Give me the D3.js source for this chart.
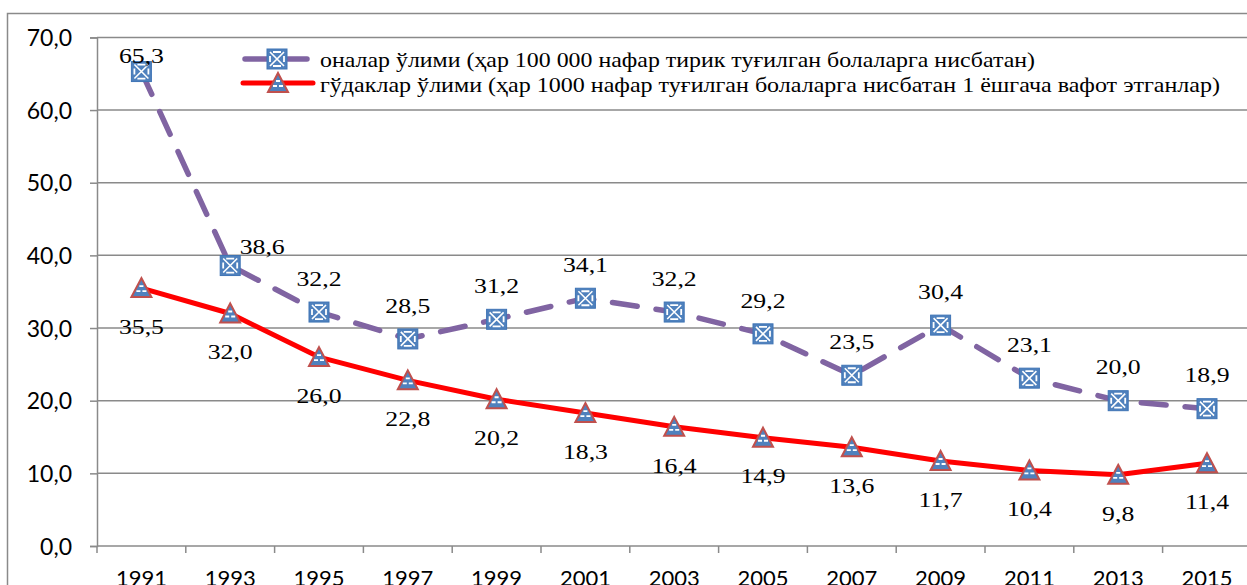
<!DOCTYPE html>
<html><head><meta charset="utf-8">
<script src="https://cdn.jsdelivr.net/npm/d3@7"></script>
<style>
html,body{margin:0;padding:0;background:#fff;overflow:hidden}
svg{display:block}
</style></head>
<body>
<svg id="chart" width="1247" height="585"></svg>
<script>
const years = ["1991","1993","1995","1997","1999","2001","2003","2005","2007","2009","2011","2013","2015"];
const maternal = [65.3,38.6,32.2,28.5,31.2,34.1,32.2,29.2,23.5,30.4,23.1,20.0,18.9];
const infant = [35.5,32.0,26.0,22.8,20.2,18.3,16.4,14.9,13.6,11.7,10.4,9.8,11.4];
const yTicks = [0,10,20,30,40,50,60,70];
const seriesNames = [
  "оналар ўлими (ҳар 100 000 нафар тирик туғилган болаларга нисбатан)",
  "гўдаклар ўлими (ҳар 1000 нафар туғилган болаларга нисбатан 1 ёшгача вафот этганлар)"
];
// label placement for maternal series
const maternalPlace = ["near","right","above","above","above","above","above","above","above","above","above","above","above"];

(function(){
const svg = d3.select("#chart");
const W = 1247, H = 585;
const mLeft = 97, mTop = 37.4, mBottom = 546;
const step = 88.8;
const fmt = v => d3.format(".1f")(v).replace(".", ",");
const grid = "#8a8a8a";
const purple = "#8064A2", red = "#FF0000", blue = "#4F81BD", redEdge = "#C0504D";
const sx = 1.17;

// outer border
svg.append("rect").attr("x",7.5).attr("y",13.5).attr("width",W+20).attr("height",H+20)
  .attr("fill","none").attr("stroke",grid).attr("stroke-width",1.5);

const x = d3.scaleBand().domain(years).range([mLeft, mLeft + step*years.length]).paddingInner(0).paddingOuter(0);
const y = d3.scaleLinear().domain([0,70]).range([mBottom, mTop]);
const cx = d => x(d) + x.bandwidth()/2;

// gridlines
svg.append("g").selectAll("line").data(yTicks.filter(d=>d>0)).join("line")
  .attr("x1",mLeft).attr("x2",W+5).attr("y1",d=>y(d)).attr("y2",d=>y(d))
  .attr("stroke",grid).attr("stroke-width",1.5);

// y axis
const yAxis = svg.append("g").attr("transform",`translate(${mLeft},0)`)
  .call(d3.axisLeft(y).tickValues(yTicks).tickFormat(fmt).tickSize(7).tickPadding(18));
yAxis.select(".domain").attr("stroke",grid).attr("stroke-width",1.5);
yAxis.selectAll(".tick line").attr("stroke",grid).attr("stroke-width",1.5);
yAxis.selectAll("text").attr("font-family","Lato, 'Open Sans', sans-serif").attr("font-size",23).attr("fill","#000").attr("dy","0.36em");

// x axis baseline + boundary ticks
svg.append("line").attr("x1",mLeft).attr("x2",W+5).attr("y1",mBottom).attr("y2",mBottom).attr("stroke",grid).attr("stroke-width",1.5);
const bounds = years.map(d=>x(d)).concat([x(years[years.length-1])+step]);
svg.append("g").selectAll("line").data(bounds).join("line")
  .attr("x1",d=>d).attr("x2",d=>d).attr("y1",mBottom).attr("y2",mBottom+7)
  .attr("stroke",grid).attr("stroke-width",1.5);
const xAxis = svg.append("g").attr("transform",`translate(0,${mBottom})`)
  .call(d3.axisBottom(x).tickSize(0).tickPadding(0));
xAxis.select(".domain").remove();
xAxis.selectAll("text").attr("font-family","Lato, 'Open Sans', sans-serif").attr("font-size",22).attr("fill","#000")
  .attr("dy",null).attr("y",40);

// lines
const lineGen = d3.line().x((d,i)=>cx(years[i])).y(d=>y(d));
svg.append("path").datum(maternal).attr("d",lineGen).attr("fill","none")
  .attr("stroke",purple).attr("stroke-width",5.5).attr("stroke-dasharray","25,19").attr("stroke-linecap","round");
svg.append("path").datum(infant).attr("d",lineGen).attr("fill","none")
  .attr("stroke",red).attr("stroke-width",5).attr("stroke-linejoin","round");

// markers
function square(g, px, py){
  const s = 20, h = s/2;
  const m = g.append("g").attr("transform",`translate(${px},${py})`);
  m.append("rect").attr("x",-h).attr("y",-h).attr("width",s).attr("height",s).attr("fill",blue).attr("stroke","#3f74b5").attr("stroke-width",1);
  m.append("path").attr("d",`M${-h+3},${-h+3}L${h-3},${h-3}M${h-3},${-h+3}L${-h+3},${h-3}`).attr("stroke","#fff").attr("stroke-width",1.6);
  m.append("path").attr("d",`M-4,${-h+3}L4,${-h+3}M-4,${h-3}L4,${h-3}M${-h+3},-3L${-h+3},3M${h-3},-3L${h-3},3`).attr("stroke","#fff").attr("stroke-width",1.8);
}
function triangle(g, px, py){
  const m = g.append("g").attr("transform",`translate(${px},${py})`);
  m.append("path").attr("d","M0,-10L10,9L-10,9Z").attr("fill",blue).attr("stroke",redEdge).attr("stroke-width",2).attr("stroke-linejoin","miter");
  m.append("path").attr("d","M-2,-2L2,-2M-5,3L-1,3M1,3L5,3").attr("stroke","#fff").attr("stroke-width",1.8);
}
const mk = svg.append("g");
maternal.forEach((v,i)=>square(mk, cx(years[i]), y(v)));
infant.forEach((v,i)=>triangle(mk, cx(years[i]), y(v)));

// data labels
function label(txt, px, py){
  svg.append("text").attr("transform",`translate(${px},${py}) scale(${sx},1)`)
    .attr("text-anchor","middle").attr("dy","0.35em")
    .attr("font-family","'Liberation Serif','Times New Roman',serif").attr("font-size",22).attr("fill","#000")
    .text(txt);
}
maternal.forEach((v,i)=>{
  const px = cx(years[i]), py = y(v);
  const p = maternalPlace[i];
  if (p==="near") label(fmt(v), px, py-16);
  else if (p==="right") label(fmt(v), px+32, py-19);
  else label(fmt(v), px, py-34);
});
infant.forEach((v,i)=> label(fmt(v), cx(years[i]), y(v)+38));

// legend
const lg = svg.append("g");
const rows = [{y:59, base:67, len:715}, {y:83, base:92, len:900}];
seriesNames.forEach((name,i)=>{
  const r = rows[i];
  if (i===0){
    lg.append("line").attr("x1",242).attr("x2",307).attr("y1",r.y).attr("y2",r.y)
      .attr("stroke",purple).attr("stroke-width",5.5).attr("stroke-dasharray","22,21").attr("stroke-dashoffset",-3).attr("stroke-linecap","round");
    square(lg, 277, r.y);
  } else {
    lg.append("line").attr("x1",243).attr("x2",313).attr("y1",r.y).attr("y2",r.y)
      .attr("stroke",red).attr("stroke-width",5).attr("stroke-linecap","round");
    triangle(lg, 278, r.y);
  }
  lg.append("text").attr("x",320).attr("y",r.base)
    .attr("font-family","'Liberation Serif','Times New Roman',serif").attr("font-size",21).attr("fill","#000")
    .attr("textLength",r.len).attr("lengthAdjust","spacingAndGlyphs")
    .text(name);
});
})();
</script>
</body></html>
